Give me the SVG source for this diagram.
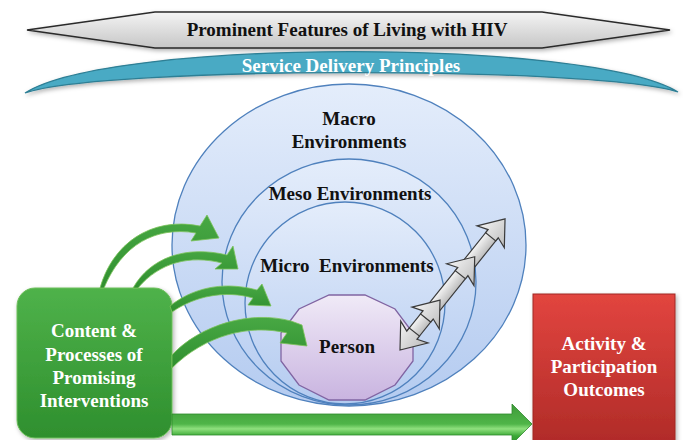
<svg xmlns="http://www.w3.org/2000/svg" width="683" height="440" viewBox="0 0 683 440">
<style>
.t{font-family:"Liberation Serif","Times New Roman",serif;font-weight:bold;font-size:19px;text-anchor:middle}
.dark{fill:#111}
.light{fill:#fff}
.env{stroke:#4f81bd;stroke-width:1.3}
.garrow{fill:url(#gArrow);stroke:#7cc35a;stroke-width:0.8}
.dbl{fill:url(#gGray);stroke:#3a3a3a;stroke-width:1.2;stroke-linejoin:miter}
</style>
<defs>
<linearGradient id="gBanner" x1="0" y1="0" x2="0" y2="1"><stop offset="0" stop-color="#f4f4f4"/><stop offset="1" stop-color="#c6c6c6"/></linearGradient>
<linearGradient id="gEnv" x1="0" y1="0" x2="0" y2="1"><stop offset="0" stop-color="#e4edfb"/><stop offset="1" stop-color="#b4cbf0"/></linearGradient>
<linearGradient id="gPerson" x1="0" y1="0" x2="0" y2="1"><stop offset="0" stop-color="#f0eaf7"/><stop offset="1" stop-color="#c9b4e0"/></linearGradient>
<linearGradient id="gGreen" x1="0" y1="0" x2="0" y2="1"><stop offset="0" stop-color="#4fb24a"/><stop offset="1" stop-color="#2e8f2e"/></linearGradient>
<linearGradient id="gArrow" x1="0" y1="0" x2="0" y2="1"><stop offset="0" stop-color="#48a844"/><stop offset="1" stop-color="#2f8f2f"/></linearGradient>
<linearGradient id="gBar" x1="0" y1="0" x2="0" y2="1"><stop offset="0" stop-color="#3f9a3a"/><stop offset="0.5" stop-color="#4fb548"/><stop offset="0.62" stop-color="#8fe07e"/><stop offset="0.8" stop-color="#3aa835"/><stop offset="1" stop-color="#2e8a2c"/></linearGradient>
<linearGradient id="gRed" x1="0" y1="0" x2="0" y2="1"><stop offset="0" stop-color="#e2453f"/><stop offset="1" stop-color="#b02b28"/></linearGradient>
<linearGradient id="gGray" x1="0" y1="0" x2="0" y2="1"><stop offset="0" stop-color="#f4f4f4"/><stop offset="1" stop-color="#bdbdbd"/></linearGradient>
<filter id="sh" x="-10%" y="-10%" width="130%" height="130%"><feDropShadow dx="1.5" dy="2" stdDeviation="2" flood-color="#000" flood-opacity="0.3"/></filter>
</defs>

<g id="banner">
<polygon points="27,30 155,12 542,12 670,30 542,48 155,48" fill="url(#gBanner)" stroke="#2a2a2a" stroke-width="1.5" filter="url(#sh)"/>
<text class="t dark" x="347" y="36">Prominent Features of Living with HIV</text>
</g>

<g id="service">
<path d="M25 93 C110 38 590 38 678 92 C600 66 100 66 25 93 Z" fill="#48aac4" stroke="#2f7f95" stroke-width="1.3" filter="url(#sh)"/>
<text class="t light" x="351" y="72">Service Delivery Principles</text>
</g>

<g id="macro">
<ellipse class="env" cx="349" cy="245" rx="177" ry="161" fill="url(#gEnv)"/>
<text class="t dark" x="349" y="125">Macro</text>
<text class="t dark" x="349" y="148">Environments</text>
</g>
<g id="meso">
<ellipse class="env" cx="349" cy="282" rx="127" ry="123" fill="url(#gEnv)"/>
<text class="t dark" x="350" y="200">Meso Environments</text>
</g>
<g id="micro">
<ellipse class="env" cx="345" cy="303" rx="100" ry="101" fill="url(#gEnv)"/>
<text class="t dark" x="347" y="272" xml:space="preserve">Micro  Environments</text>
</g>

<g id="person">
<polygon points="329,295 365,295 395,309 413,333 413,361 395,385 365,400 329,400 299,385 281,361 281,333 299,309" fill="url(#gPerson)" stroke="#8064a2" stroke-width="1.3"/>
<text class="t dark" x="347" y="353">Person</text>
</g>

<g id="content">
<rect x="17" y="288" width="155" height="150" rx="18" fill="url(#gGreen)" stroke="#6cbf5a" stroke-width="1" filter="url(#sh)"/>
<text class="t light" x="94" y="337">Content &amp;</text>
<text class="t light" x="94" y="361">Processes of</text>
<text class="t light" x="94" y="384">Promising</text>
<text class="t light" x="94" y="407">Interventions</text>
</g>

<g id="outcomes">
<rect x="533" y="294" width="142" height="150" fill="url(#gRed)" stroke="#a02825" stroke-width="1" filter="url(#sh)"/>
<text class="t light" x="604" y="350">Activity &amp;</text>
<text class="t light" x="604" y="373">Participation</text>
<text class="t light" x="604" y="396">Outcomes</text>
</g>

<g id="connectors">
<path class="garrow" d="M100 288 C112 245 150 216 200 226 L207 215 L219 238 L191 241 L196 233 C155 226 122 245 104 288 Z"/>
<path class="garrow" d="M133 288 C150 258 185 245 227 255 L233 246 L238 269 L215 269 L222 263 C190 255 160 262 138 288 Z"/>
<path class="garrow" d="M170 306 C190 290 220 280 257 290 L262 284 L271 306 L248 305 L253 298 C225 290 195 296 172 312 Z"/>
<path class="garrow" d="M172 355 C200 325 250 310 291 321 L302 325 L307 346 L280 343 L287 333 C250 324 205 335 172 368 Z"/>
<path d="M172 414 L512 414 L512 404 L532 424 L512 444 L512 435 L172 435 Z" fill="url(#gBar)" stroke="#2f8a2c" stroke-width="0.8"/>
<g transform="translate(400,350) rotate(-51.3)">
<rect class="dbl" x="18" y="-6.5" width="135" height="13"/>
<polygon class="dbl" points="0,0 23,-17.5 19,-6.5 23,-6.5 23,6.5 19,6.5 23,17.5"/>
<polygon class="dbl" points="64,0 41,-17.5 45,-6.5 41,-6.5 41,6.5 45,6.5 41,17.5"/>
<polygon class="dbl" points="119.5,0 96.5,-17.5 100.5,-6.5 96.5,-6.5 96.5,6.5 100.5,6.5 96.5,17.5"/>
<polygon class="dbl" points="168,0 145,-17.5 149,-6.5 145,-6.5 145,6.5 149,6.5 145,17.5"/>
</g>
</g>
</svg>
